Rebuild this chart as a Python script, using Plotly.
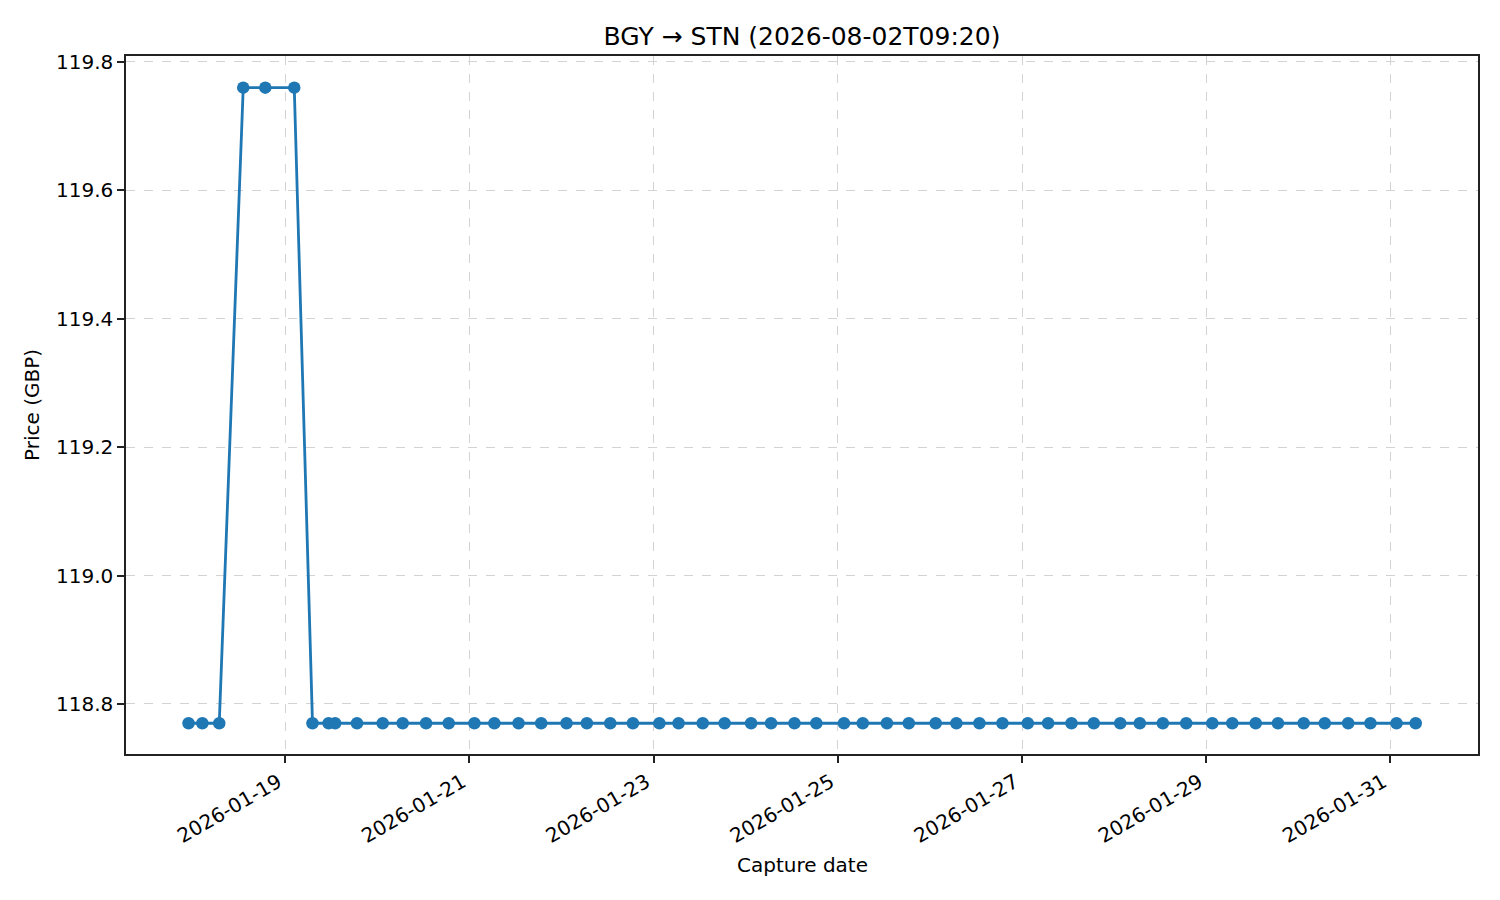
import plotly.graph_objects as go

capture_times = [
    "2026-01-17 22:48", "2026-01-18 02:24", "2026-01-18 06:48", "2026-01-18 13:03",
    "2026-01-18 18:48", "2026-01-19 02:21", "2026-01-19 07:06", "2026-01-19 11:18",
    "2026-01-19 13:00", "2026-01-19 18:42", "2026-01-20 01:24", "2026-01-20 06:36",
    "2026-01-20 12:42", "2026-01-20 18:36", "2026-01-21 01:18", "2026-01-21 06:30",
    "2026-01-21 12:48", "2026-01-21 18:42", "2026-01-22 01:18", "2026-01-22 06:36",
    "2026-01-22 12:42", "2026-01-22 18:36", "2026-01-23 01:30", "2026-01-23 06:30",
    "2026-01-23 12:48", "2026-01-23 18:30", "2026-01-24 01:24", "2026-01-24 06:36",
    "2026-01-24 12:42", "2026-01-24 18:24", "2026-01-25 01:36", "2026-01-25 06:30",
    "2026-01-25 12:48", "2026-01-25 18:30", "2026-01-26 01:30", "2026-01-26 06:54",
    "2026-01-26 12:54", "2026-01-26 18:54", "2026-01-27 01:30", "2026-01-27 06:48",
    "2026-01-27 12:54", "2026-01-27 18:42", "2026-01-28 01:36", "2026-01-28 06:42",
    "2026-01-28 12:42", "2026-01-28 18:48", "2026-01-29 01:36", "2026-01-29 06:48",
    "2026-01-29 12:54", "2026-01-29 18:42", "2026-01-30 01:24", "2026-01-30 06:54",
    "2026-01-30 13:00", "2026-01-30 18:48", "2026-01-31 01:36", "2026-01-31 06:36",
]
prices = [118.77, 118.77, 118.77, 119.76, 119.76, 119.76] + [118.77] * 50

tick_dates = ["2026-01-19", "2026-01-21", "2026-01-23", "2026-01-25",
              "2026-01-27", "2026-01-29", "2026-01-31"]
y_ticks = [118.8, 119.0, 119.2, 119.4, 119.6, 119.8]

color = "#1f77b4"
font = "DejaVu Sans"

# figure is placed 8px from the page corner by the page body margin
W, H = 1492, 892
L, T, R, B = 118, 48, 22, 146
plot_w, plot_h = W - L - R, H - T - B

fig = go.Figure()
fig.add_trace(go.Scatter(
    x=capture_times, y=prices, mode="lines+markers",
    line=dict(color=color, width=2.8),
    marker=dict(color=color, size=12.5),
    showlegend=False,
))

axis_common = dict(
    showline=True, linecolor="#222222", linewidth=1.5, mirror=True,
    ticks="outside", ticklen=7, tickcolor="#222222", tickwidth=1.5,
    showgrid=True, gridcolor="#d3d3d3", griddash="dash", gridwidth=1.2,
    zeroline=False, tickfont=dict(family=font, size=20, color="black"),
)

fig.update_layout(
    width=W, height=H,
    margin=dict(l=L, r=R, t=T, b=B),
    paper_bgcolor="white", plot_bgcolor="white",
    font=dict(family=font, color="black"),
    title=dict(text="BGY → STN (2026-08-02T09:20)", x=0.5, xref="paper",
               y=1 - 28 / H, yref="container", yanchor="middle", xanchor="center",
               font=dict(family=font, size=25, color="black")),
    xaxis=dict(
        type="date", range=["2026-01-17 06:30", "2026-01-31 22:50"],
        tickvals=tick_dates, ticktext=tick_dates, tickangle=-30,
        ticklabelshift=-7,
        **axis_common,
    ),
    yaxis=dict(
        range=[118.7221, 119.8093],
        tickvals=y_ticks, ticktext=[f"{v:.1f}" for v in y_ticks],
        **axis_common,
    ),
    annotations=[
        dict(text="Capture date", xref="paper", yref="paper", x=0.5,
             y=-(857 - (H - B)) / plot_h, xanchor="center", yanchor="middle",
             showarrow=False, font=dict(family=font, size=20, color="black")),
        dict(text="Price (GBP)", xref="paper", yref="paper",
             x=(24 - L) / plot_w, y=0.5, xanchor="center", yanchor="middle",
             textangle=-90, showarrow=False,
             font=dict(family=font, size=20, color="black")),
    ],
)

fig.write_html("out.html")
